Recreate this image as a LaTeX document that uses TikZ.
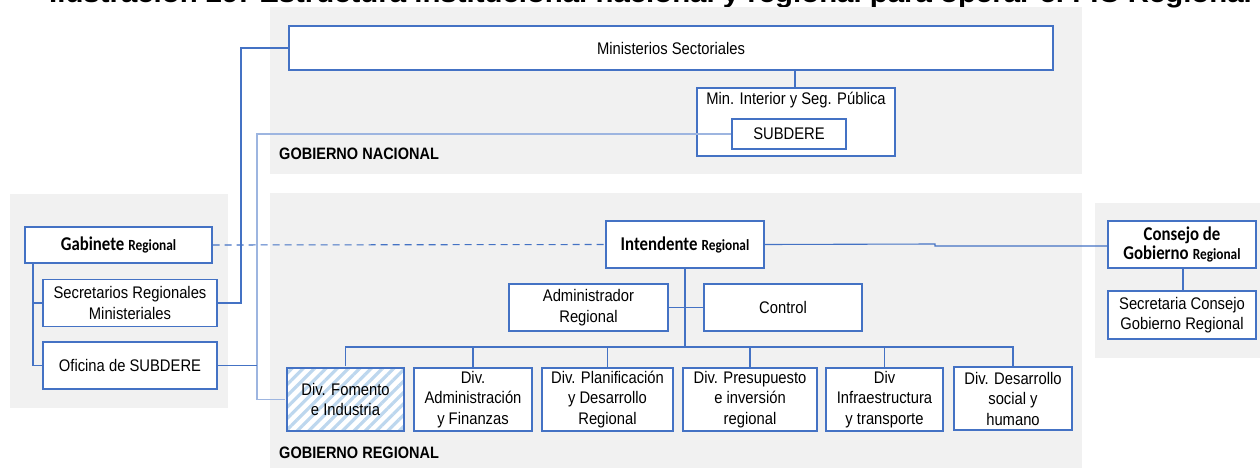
\documentclass[tikz,border=0pt]{standalone}
\usepackage{fontspec}
\setmainfont[FakeStretch=0.88]{Liberation Sans}
\newfontfamily\calfont[FakeStretch=0.86]{Carlito}
\newfontfamily\titlefont[FakeStretch=1.13]{Liberation Sans}
\usetikzlibrary{patterns.meta}
\definecolor{boxblue}{HTML}{4472C4}
\definecolor{lightline}{HTML}{9DB5E0}
\definecolor{panelgray}{HTML}{F1F1F1}
\definecolor{hatch}{HTML}{BDD7EE}
\tikzset{
  box/.style={draw=boxblue, line width=1.3pt, fill=white, inner sep=2pt, align=center,
    font=\fontsize{16.8}{20.5}\selectfont},
  conn/.style={draw=boxblue, line width=1.1pt},
  lconn/.style={draw=lightline, line width=1.1pt},
  panel/.style={fill=panelgray, draw=none},
  panellabel/.style={anchor=west, inner sep=0pt, font=\bfseries\fontsize{16.5}{20}\selectfont},
}
\newcommand{\boldreg}[1]{{\calfont\bfseries\fontsize{19.5}{22}\selectfont #1}}
\newcommand{\smreg}{{\calfont\bfseries\fontsize{15.5}{22}\selectfont Regional}}
\begin{document}
\begin{tikzpicture}[x=1pt,y=-1pt]
\useasboundingbox (0,0) rectangle (1260,468);
\begin{scope}
\clip (0,0) rectangle (1260,468);
% title (cut off at the top)
\node[anchor=base west, inner sep=0pt, font=\titlefont\bfseries\fontsize{26}{30}\selectfont] (title) at (49,2.8)
  {Ilustración 29: Estructura institucional nacional y regional para operar el FIC Regional};
% panels
\fill[panel] (270,7) rectangle (1082,174);
\fill[panel] (270,193) rectangle (1082,470);
\fill[panel] (10,194) rectangle (228,408);
\fill[panel] (1095,203) rectangle (1262,358);
\end{scope}
\node[panellabel] (gn) at (279,154) {GOBIERNO NACIONAL};
\node[panellabel] (gr) at (279,453) {GOBIERNO REGIONAL};

% national
\node[box, minimum width=764pt, minimum height=44pt] (mins) at (671,48) {Ministerios Sectoriales};
\node[box, minimum width=198pt, minimum height=68pt] (minint) at (796,122) {};
\node[anchor=north, inner sep=0pt, font=\fontsize{16.8}{20}\selectfont] (minintt) at (796,92) {Min. Interior y Seg. Pública};
\node[box, minimum width=114pt, minimum height=30pt] (subdere) at (789,134) {SUBDERE};

% left panel
\node[box, minimum width=187pt, minimum height=36pt] (gab) at (118.5,245) {\boldreg{Gabinete} \smreg};
\node[box, minimum width=174pt, minimum height=47pt] (secr) at (130,303) {Secretarios Regionales\\Ministeriales};
\node[box, minimum width=174pt, minimum height=47pt] (ofi) at (130,365.5) {Oficina de SUBDERE};

% regional
\node[box, minimum width=158pt, minimum height=47pt] (intend) at (685,244.5) {\boldreg{Intendente} \smreg};
\node[box, minimum width=159pt, minimum height=47pt] (admin) at (588.5,307.5) {Administrador\\Regional};
\node[box, minimum width=158pt, minimum height=47pt] (control) at (783,307.5) {Control};

\node[box, minimum width=117pt, minimum height=63pt, preaction={fill=white},
  pattern={Lines[angle=45,distance=8pt,line width=3.2pt]}, pattern color=hatch] (fom) at (345.5,399.5) {Div. Fomento\\e Industria};
\node[box, minimum width=118pt, minimum height=63pt] (adm) at (473,399.5) {Div.\\Administración\\y Finanzas};
\node[box, minimum width=131pt, minimum height=63pt] (plan) at (607.5,399.5) {Div. Planificación\\y Desarrollo\\Regional};
\node[box, minimum width=134pt, minimum height=63pt] (pres) at (750,399.5) {Div. Presupuesto\\e inversión\\regional};
\node[box, minimum width=117pt, minimum height=63pt] (infra) at (884.5,399.5) {Div\\Infraestructura\\y transporte};
\node[box, minimum width=118pt, minimum height=63pt] (soc) at (1013,398.5) {Div. Desarrollo\\social y\\humano};

% right panel
\node[box, minimum width=148pt, minimum height=47pt] (consejo) at (1182,244.5) {\boldreg{Consejo de}\\[-1pt]\boldreg{Gobierno} \smreg};
\node[box, minimum width=148pt, minimum height=48pt] (secc) at (1182,315) {Secretaria Consejo\\Gobierno Regional};

% connectors
\coordinate (j1) at (241,48);
\draw[conn] (mins.west) -- (j1) |- (secr.east);
\coordinate (j2) at (257,134);
\draw[lconn] (subdere.west) -- (j2) |- (fom.west);
\draw[conn] (ofi.east) -- (ofi.east -| j2);
\draw[conn] (mins.south -| 795,0) -- (minint.north -| 795,0);
\draw[conn, dashed, dash pattern=on 7pt off 5pt] (gab.east) -- (intend.west);
\coordinate (gj) at (33,263);
\draw[conn] (gj) |- (ofi.west);
\draw[conn] (gj |- secr.west) -- (secr.west);
\coordinate (bus) at (685,347);
\draw[conn] (intend.south) -- (bus);
\draw[conn] (admin.east) -- (control.west);
\draw[conn] (fom.north) |- (soc.north |- bus) -- (soc.north);
\foreach \n in {adm,plan,pres,infra}{\draw[conn] (\n.north) -- (\n.north |- bus);}
\draw[conn] (intend.east) -- (935,244) -- (935,246) -- (consejo.west |- 0,246);
\draw[conn] (consejo.south -| 1183,0) -- (secc.north -| 1183,0);
\end{tikzpicture}
\end{document}
